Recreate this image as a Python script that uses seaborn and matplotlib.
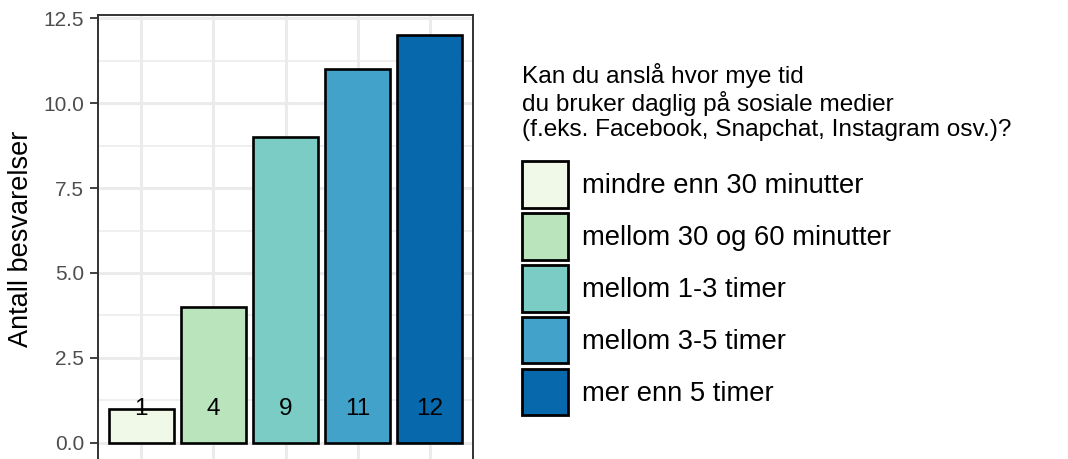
import matplotlib
matplotlib.use("Agg")
import matplotlib.pyplot as plt
from matplotlib.patches import Patch
import numpy as np
import seaborn as sns

# svaralternativer og antall svar
kategorier = ["mindre enn 30 minutter", "mellom 30 og 60 minutter",
              "mellom 1-3 timer", "mellom 3-5 timer", "mer enn 5 timer"]
antall = [1, 4, 9, 11, 12]
farger = ["#F0F9E8", "#BAE4BC", "#7BCCC4", "#43A2CA", "#0868AC"]
yticks = [0.0, 2.5, 5.0, 7.5, 10.0, 12.5]
legend_tittel = ("Kan du anslå hvor mye tid\n"
                 "du bruker daglig på sosiale medier\n"
                 "(f.eks. Facebook, Snapchat, Instagram osv.)?")

sns.set_style("white")
plt.rcParams["font.family"] = ["Liberation Sans", "DejaVu Sans"]
plt.rcParams["text.color"] = "black"
plt.rcParams["axes.labelcolor"] = "black"

fig = plt.figure(figsize=(10.68, 4.59), dpi=100)
ax = fig.add_axes([0.0918, -0.0087, 0.3511, 0.9760])

sns.barplot(x=kategorier, y=antall, hue=kategorier, palette=farger, order=kategorier,
            hue_order=kategorier, width=0.9, saturation=1, edgecolor="black",
            linewidth=1.9, legend=False, ax=ax, zorder=3)

# tallene inne i stolpene
for i, v in enumerate(antall):
    ax.text(i, 1, str(v), ha="center", va="center", fontsize=17.5, color="black", zorder=4)

ax.set_xlim(-0.6, 4.6)
ax.set_ylim(-0.6, 12.6)
ax.set_yticks(yticks)
ax.set_yticklabels([f"{t:.1f}" for t in yticks])
ax.set_yticks(np.arange(1.25, 12.6, 2.5), minor=True)
ax.set_xticklabels([])
ax.set_xlabel("")
ax.set_ylabel("Antall besvarelser", fontsize=19.5, color="black", labelpad=7)

ax.grid(True, which="major", color="#EBEBEB", linewidth=2.2, zorder=0)
ax.grid(True, which="minor", axis="y", color="#EBEBEB", linewidth=1.1, zorder=0)
ax.set_axisbelow(True)
ax.tick_params(axis="y", which="major", length=6, width=1.3, color="#333333",
               labelsize=15, labelcolor="#4D4D4D", pad=4, left=True)
ax.tick_params(axis="y", which="minor", length=0)
ax.tick_params(axis="x", length=6, width=1.3, color="#333333", bottom=True)
for s in ax.spines.values():
    s.set_color("#333333")
    s.set_linewidth(1.4)

# legendetittel som egen tekst, så avstanden til nøklene kan styres
fig.text(0.4888, 1 - 63 / 459, legend_tittel, ha="left", va="top", fontsize=17.6,
         linespacing=1.15, color="black")

handles = [Patch(facecolor=c, edgecolor="black", linewidth=2.0) for c in farger]
leg = fig.legend(handles, kategorier, loc="upper left", bbox_to_anchor=(0.4888, 1 - 161 / 459),
                 frameon=False, fontsize=19.7, labelcolor="black",
                 handlelength=1.68, handleheight=2.25, labelspacing=0.19,
                 handletextpad=0.5, borderpad=0, borderaxespad=0)

fig.savefig("out.png", dpi=100)
